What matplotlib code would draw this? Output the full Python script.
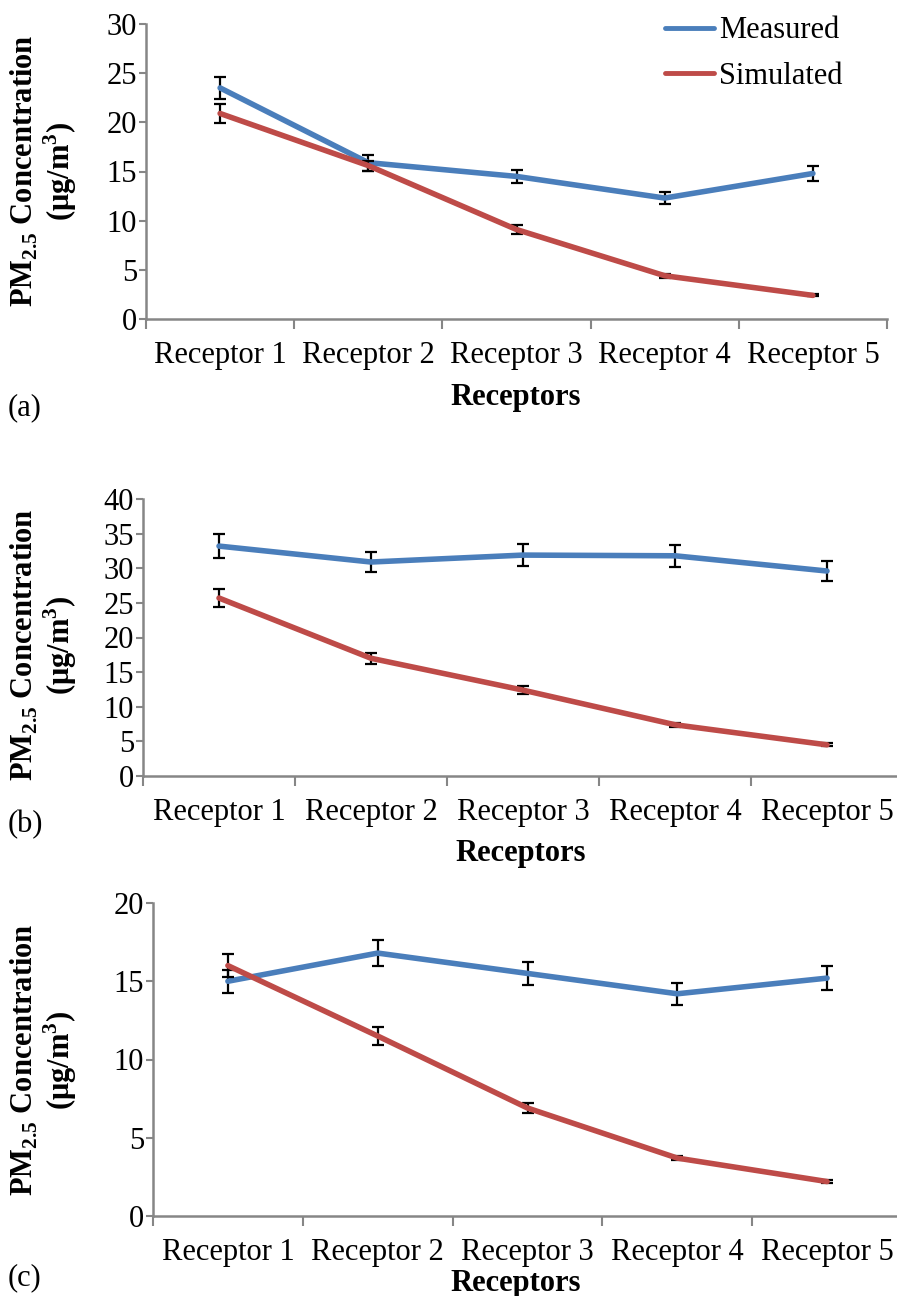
import numpy as np
import matplotlib
matplotlib.use('Agg')
import matplotlib.pyplot as plt
from matplotlib.lines import Line2D

plt.rcParams['font.family'] = ['Liberation Serif', 'DejaVu Serif']
plt.rcParams['mathtext.fontset'] = 'custom'
plt.rcParams['mathtext.rm'] = 'Liberation Serif:bold'
plt.rcParams['mathtext.bf'] = 'Liberation Serif:bold'

receptors = ['Receptor 1', 'Receptor 2', 'Receptor 3', 'Receptor 4', 'Receptor 5']

# (a)
meas_a = [23.5, 15.9, 14.5, 12.3, 14.8]
meas_a_err = [1.15, 0.8, 0.7, 0.6, 0.8]
sim_a = [20.9, 15.6, 9.1, 4.4, 2.4]
sim_a_err = [1.0, 0.5, 0.45, 0.2, 0.1]

# (b)
meas_b = [33.2, 30.9, 31.9, 31.8, 29.6]
meas_b_err = [1.7, 1.5, 1.6, 1.6, 1.5]
sim_b = [25.7, 17.0, 12.4, 7.4, 4.5]
sim_b_err = [1.25, 0.8, 0.6, 0.3, 0.2]

# (c)
meas_c = [15.0, 16.8, 15.5, 14.2, 15.2]
meas_c_err = [0.75, 0.85, 0.75, 0.7, 0.75]
sim_c = [16.0, 11.5, 6.9, 3.7, 2.2]
sim_c_err = [0.75, 0.55, 0.3, 0.12, 0.08]

BLUE = '#4a7ebb'
RED = '#be4b48'
GRAY = '#868686'
FS = 22

W, H = 897, 1296
fig = plt.figure(figsize=(W / 100, H / 100), dpi=100)


def px_axes(left, top, right, bottom):
    return fig.add_axes([left / W, 1 - bottom / H, (right - left) / W, (bottom - top) / H])


def draw_panel(ax, meas, meas_err, sim, sim_err, ymax, ystep):
    x = np.arange(len(receptors)) + 0.5
    ax.errorbar(x, meas, yerr=meas_err, color=BLUE, lw=4.0, ecolor='black',
                elinewidth=1.6, capsize=4, capthick=1.6,
                solid_capstyle='round', zorder=2)
    ax.errorbar(x, sim, yerr=sim_err, color=RED, lw=4.0, ecolor='black',
                elinewidth=1.6, capsize=4, capthick=1.6,
                solid_capstyle='round', zorder=3)
    ax.set_xlim(0, len(receptors))
    ax.set_ylim(0, ymax)
    ax.set_yticks(np.arange(0, ymax + 0.1, ystep))
    ax.set_xticks(np.arange(0, len(receptors) + 1))
    ax.set_xticklabels([])
    ax.set_xticks(x, minor=True)
    ax.set_xticklabels(receptors, minor=True)
    ax.tick_params(axis='x', which='major', length=7, width=1.5, color=GRAY, direction='out')
    ax.tick_params(axis='x', which='minor', length=0, pad=16, labelsize=FS)
    ax.tick_params(axis='y', length=5, width=1.5, color=GRAY, direction='out',
                   pad=1.5, labelsize=FS)
    for s in ['top', 'right']:
        ax.spines[s].set_visible(False)
    for s in ['left', 'bottom']:
        ax.spines[s].set_color(GRAY)
        ax.spines[s].set_linewidth(1.8)


ylabel = 'PM$_{2.5}$ Concentration\n(μg/m$^{3}$)'

ax_a = px_axes(146, 24, 887, 319)
draw_panel(ax_a, meas_a, meas_a_err, sim_a, sim_a_err, 30, 5)
handles = [Line2D([], [], color=BLUE, lw=3.5, solid_capstyle='round'),
           Line2D([], [], color=RED, lw=3.5, solid_capstyle='round')]
ax_a.legend(handles, ['Measured', 'Simulated'], loc='upper left',
            bbox_to_anchor=(650 / W, 1 - 1 / H), bbox_transform=fig.transFigure,
            frameon=False, fontsize=FS, handlelength=1.6, handletextpad=0.15,
            labelspacing=0.55, borderpad=0)
fig.text(44 / W, 1 - 171 / H, ylabel, rotation=90, ha='center', va='center',
         fontsize=FS, fontweight='bold', linespacing=1.05)
fig.text(516 / W, 1 - 397 / H, 'Receptors', ha='center', va='center',
         fontsize=FS, fontweight='bold')
fig.text(8 / W, 1 - 408 / H, '(a)', ha='left', va='center', fontsize=FS)

ax_b = px_axes(143, 499, 903, 776)
draw_panel(ax_b, meas_b, meas_b_err, sim_b, sim_b_err, 40, 5)
fig.text(44 / W, 1 - 645 / H, ylabel, rotation=90, ha='center', va='center',
         fontsize=FS, fontweight='bold', linespacing=1.05)
fig.text(521 / W, 1 - 854 / H, 'Receptors', ha='center', va='center',
         fontsize=FS, fontweight='bold')
fig.text(8 / W, 1 - 825 / H, '(b)', ha='left', va='center', fontsize=FS)

ax_c = px_axes(153, 903, 902, 1216)
draw_panel(ax_c, meas_c, meas_c_err, sim_c, sim_c_err, 20, 5)
fig.text(44 / W, 1 - 1060 / H, ylabel, rotation=90, ha='center', va='center',
         fontsize=FS, fontweight='bold', linespacing=1.05)
fig.text(516 / W, 1 - 1283 / H, 'Receptors', ha='center', va='center',
         fontsize=FS, fontweight='bold')
fig.text(8 / W, 1 - 1278 / H, '(c)', ha='left', va='center', fontsize=FS)

fig.savefig('out.png', dpi=100)
